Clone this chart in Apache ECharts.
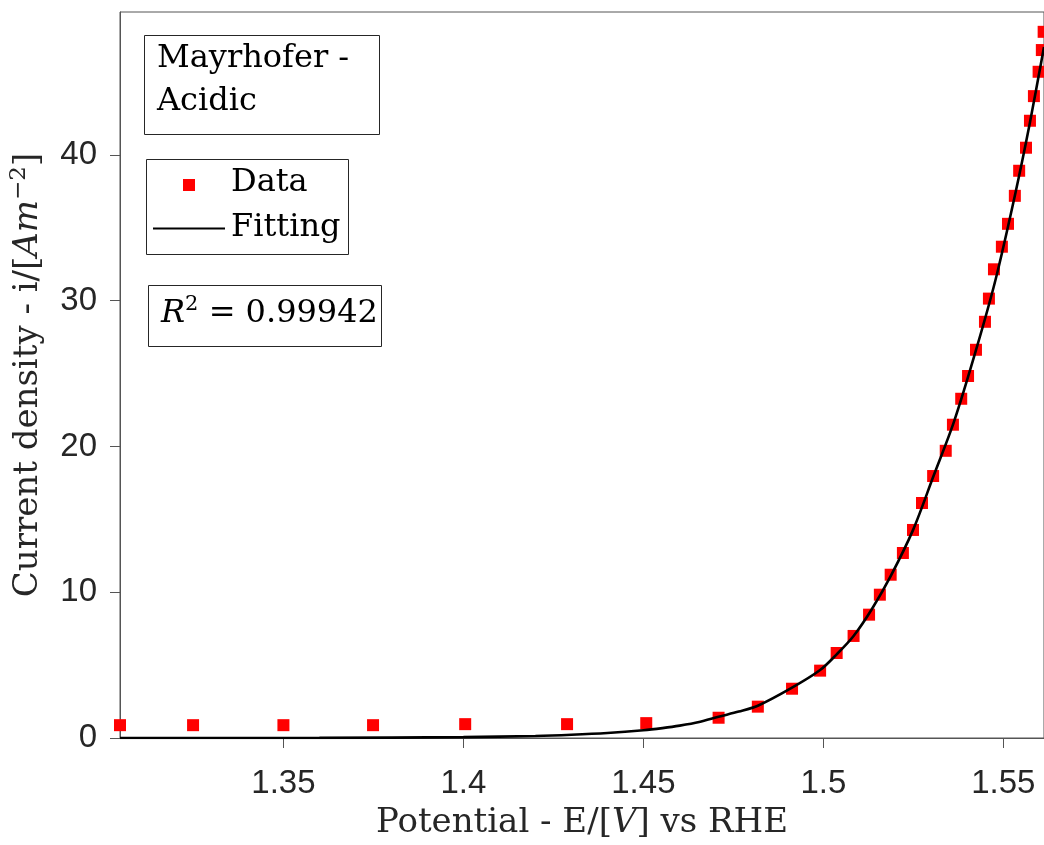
<!DOCTYPE html>
<html>
<head>
<meta charset="utf-8">
<script src="https://cdn.jsdelivr.net/npm/echarts@6/dist/echarts.min.js"></script>
<style>
html,body{margin:0;padding:0;background:#fff;}
#chart{width:1044px;height:845px;}
</style>
</head>
<body>
<div id="chart"></div>
<script>
// Measured data (Potential E vs RHE [V], current density i [A m^-2])
var dataE = [1.3046, 1.3249, 1.35, 1.3749, 1.4005, 1.4288, 1.4508, 1.4709, 1.4818, 1.4913, 1.4991, 1.5037, 1.5084, 1.5127, 1.5157, 1.5187, 1.5221, 1.5249, 1.5274, 1.5305, 1.5340, 1.5360, 1.5383, 1.5402, 1.5424, 1.5449, 1.5460, 1.5474, 1.5496, 1.5513, 1.5532, 1.5544, 1.5563, 1.5574, 1.5585, 1.5598, 1.5607, 1.5612];
var dataI = [0.88, 0.88, 0.88, 0.88, 0.95, 0.95, 1.02, 1.39, 2.15, 3.38, 4.62, 5.83, 7.00, 8.46, 9.83, 11.20, 12.69, 14.27, 16.12, 17.97, 19.70, 21.49, 23.27, 24.83, 26.63, 28.55, 30.14, 32.15, 33.70, 35.27, 37.19, 38.91, 40.49, 42.34, 44.03, 45.70, 47.19, 48.44];
// Fitted curve
var fitE = [1.3046, 1.36, 1.40, 1.42, 1.43, 1.44, 1.45, 1.4553, 1.4601, 1.4655, 1.4709, 1.4765, 1.4818, 1.4913, 1.4991, 1.5037, 1.5084, 1.5135, 1.5187, 1.5249, 1.5305, 1.5363, 1.5424, 1.5478, 1.5532, 1.5573, 1.5613];
var fitI = [0.0, 0.01, 0.06, 0.14, 0.22, 0.34, 0.53, 0.68, 0.85, 1.10, 1.46, 1.81, 2.21, 3.45, 4.66, 5.74, 7.0, 8.85, 11.1, 14.26, 17.9, 21.7, 26.6, 31.4, 37.2, 42.1, 47.4];
// Tick values
var xTicks = [1.35, 1.4, 1.45, 1.5, 1.55];
var yTicks = [0, 10, 20, 30, 40];
var xRange = [1.3046, 1.5613];
var yRange = [0, 49.8];
var rSquared = '0.99942';

var serif = '"DejaVu Serif", "Liberation Serif", serif';
var sans = '"Liberation Sans", Arial, Helvetica, sans-serif';

function zip(a, b) { return a.map(function (v, k) { return [v, b[k]]; }); }

var chart = echarts.init(document.getElementById('chart'));
chart.setOption({
  animation: false,
  backgroundColor: '#fff',
  grid: { left: 120, right: 0, top: 12, bottom: 107, outerBoundsMode: 'none',
          show: true, borderColor: '#555', borderWidth: 1 },
  xAxis: {
    type: 'value', min: xRange[0], max: xRange[1],
    name: '{n|Potential - E/[}{it|V}{n|] vs RHE}',
    nameLocation: 'middle', nameGap: 68,
    nameTextStyle: {
      rich: {
        n: { fontFamily: serif, fontSize: 34, color: '#262626' },
        it: { fontFamily: serif, fontSize: 34, fontStyle: 'italic', color: '#262626' }
      }
    },
    axisLine: { show: true, onZero: false, lineStyle: { color: '#555', width: 1 } },
    axisTick: { show: true, inside: false, length: 10, customValues: xTicks, lineStyle: { color: '#555' } },
    axisLabel: { customValues: xTicks, margin: 29, fontFamily: sans, fontSize: 33, color: '#262626',
                 formatter: function (v) { return String(+v.toFixed(2)); } },
    splitLine: { show: false }
  },
  yAxis: {
    type: 'value', min: yRange[0], max: yRange[1],
    name: '{n|Current density - i/[}{it|Am}{sup|\u22122}{n|]}',
    nameLocation: 'middle', nameGap: 72,
    nameTextStyle: {
      rich: {
        n: { fontFamily: serif, fontSize: 34, color: '#262626', lineHeight: 40 },
        it: { fontFamily: serif, fontSize: 34, fontStyle: 'italic', color: '#262626', lineHeight: 40 },
        sup: { fontFamily: serif, fontSize: 23, color: '#262626', verticalAlign: 'top', lineHeight: 40 }
      }
    },
    axisLine: { show: true, lineStyle: { color: '#555', width: 1 } },
    axisTick: { show: true, inside: false, length: 10, customValues: yTicks, lineStyle: { color: '#555' } },
    axisLabel: { customValues: yTicks, margin: 23, fontFamily: sans, fontSize: 33, color: '#262626' },
    splitLine: { show: false }
  },
  series: [
    { name: 'Data', type: 'scatter', data: zip(dataE, dataI), symbol: 'rect', symbolSize: 12,
      itemStyle: { color: '#ff0000', opacity: 1 }, clip: false, z: 2 },
    { name: 'Fitting', type: 'line', data: zip(fitE, fitI), showSymbol: false, symbol: 'none',
      smooth: 0.3, lineStyle: { color: '#000', width: 2.6 }, z: 3 }
  ],
  graphic: [
    { type: 'rect', shape: { x: 144.5, y: 35.5, width: 235, height: 99 },
      style: { fill: '#fff', stroke: '#262626', lineWidth: 1 } },
    { type: 'text', x: 157, y: 59, style: { text: 'Mayrhofer -', fontFamily: serif, fontSize: 32, fill: '#000', verticalAlign: 'middle' } },
    { type: 'text', x: 157, y: 102, style: { text: 'Acidic', fontFamily: serif, fontSize: 32, fill: '#000', verticalAlign: 'middle' } },

    { type: 'rect', shape: { x: 146.5, y: 159.5, width: 202, height: 95 },
      style: { fill: '#fff', stroke: '#262626', lineWidth: 1 } },
    { type: 'rect', shape: { x: 183, y: 179, width: 12, height: 12 }, style: { fill: '#ff0000' } },
    { type: 'text', x: 231, y: 183, style: { text: 'Data', fontFamily: serif, fontSize: 32, fill: '#000', verticalAlign: 'middle' } },
    { type: 'line', shape: { x1: 153, y1: 228.5, x2: 225, y2: 228.5 }, style: { stroke: '#000', lineWidth: 1.8 } },
    { type: 'text', x: 231, y: 228, style: { text: 'Fitting', fontFamily: serif, fontSize: 32, fill: '#000', verticalAlign: 'middle' } },

    { type: 'rect', shape: { x: 148.5, y: 285.5, width: 233, height: 61 },
      style: { fill: '#fff', stroke: '#262626', lineWidth: 1 } },
    { type: 'text', x: 161, y: 314, style: {
        text: '{it|R}{sup|2}{n| = ' + rSquared + '}',
        verticalAlign: 'middle',
        rich: {
          it: { fontFamily: serif, fontSize: 32, fontStyle: 'italic', fill: '#000', lineHeight: 40 },
          sup: { fontFamily: serif, fontSize: 21, fill: '#000', verticalAlign: 'top', lineHeight: 40 },
          n: { fontFamily: serif, fontSize: 32, fill: '#000', lineHeight: 40 }
        } } }
  ]
});
</script>
</body>
</html>
